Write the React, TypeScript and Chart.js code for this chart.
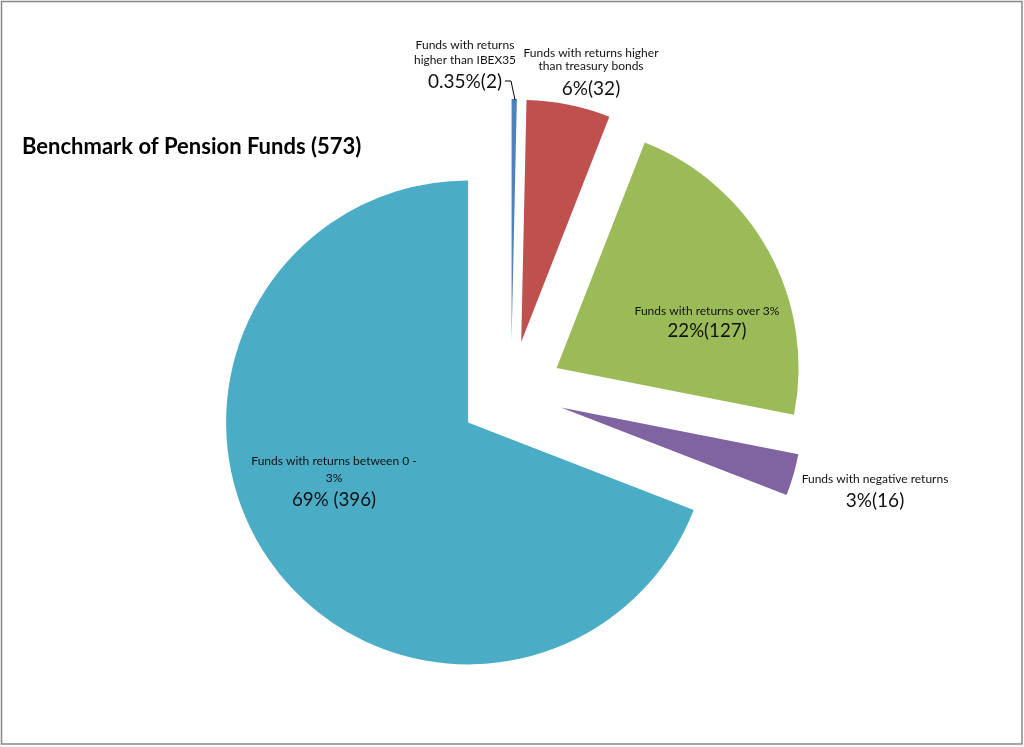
import React, { useEffect, useRef } from "react";
import { Chart, registerables } from "chart.js";

Chart.register(...registerables);

// ---- data ----
const categoryLines = [
  ["Funds with returns", "higher than IBEX35"],
  ["Funds with returns higher", "than treasury bonds"],
  ["Funds with returns over 3%"],
  ["Funds with negative returns"],
  ["Funds with returns between 0 -", "3%"],
];
const fundCounts = [2, 32, 127, 16, 396];
const valueLabels = ["0.35%(2)", "6%(32)", "22%(127)", "3%(16)", "69% (396)"];
const sliceColors = ["#4F81BD", "#C0504D", "#9BBB59", "#8064A2", "#4BACC6"];
const chartTitle = "Benchmark of Pension Funds (573)";

// ---- layout / style (not data) ----
const EXPLODE = 52;
const RADIUS = 242;
const TEXT_COLOR = "#111111";
const SMALL_FONT = "12px Lato";
const VALUE_FONT = "19px Lato";
// label placement relative to pie centre: x centre, y of each category line, y of value line
const labelLayout = [
  { dx: -46, lineYs: [-348, -332.5], valueY: -311, valueW: 76, lineW: [102, 102] },
  { dx: 80, lineYs: [-340, -326.5], valueY: -304, valueW: 59, lineW: [135, 108] },
  { dx: 196, lineYs: [-82], valueY: -62, valueW: 79, lineW: [145] },
  { dx: 364, lineYs: [86], valueY: 108, valueW: 59, lineW: [148] },
  { dx: -177, lineYs: [68, 85], valueY: 107, valueW: 84, lineW: [186, 18] },
];

const explodePlugin = {
  id: "explodeSlices",
  beforeDatasetDraw(chart: any, args: any) {
    const ctx = chart.ctx;
    args.meta.data.forEach((arc: any) => {
      const { startAngle, endAngle } = arc.getProps(["startAngle", "endAngle"], true);
      const mid = (startAngle + endAngle) / 2;
      ctx.save();
      ctx.translate(Math.cos(mid) * EXPLODE, Math.sin(mid) * EXPLODE);
      arc.draw(ctx, chart.chartArea);
      ctx.restore();
    });
    return false;
  },
};

const textPlugin = {
  id: "pieText",
  afterDraw(chart: any) {
    const ctx = chart.ctx;
    const arc0 = chart.getDatasetMeta(0).data[0];
    const cx = arc0.x;
    const cy = arc0.y;
    ctx.save();
    // border
    ctx.strokeStyle = "#888888";
    ctx.lineWidth = 1.5;
    ctx.strokeRect(1.5, 1.5, 1020.5, 742.5);

    // title
    ctx.fillStyle = "#000000";
    ctx.font = "bold 22px Lato";
    ctx.textAlign = "left";
    ctx.textBaseline = "middle";
    ctx.fillText(chartTitle, 22, 147, 340);

    ctx.textAlign = "center";
    ctx.fillStyle = TEXT_COLOR;
    labelLayout.forEach((lay, i) => {
      const x = cx + lay.dx;
      ctx.font = SMALL_FONT;
      categoryLines[i].forEach((line, j) => {
        ctx.fillText(line, x, cy + lay.lineYs[j], lay.lineW[j]);
      });
      ctx.font = VALUE_FONT;
      ctx.fillText(valueLabels[i], x, cy + lay.valueY, lay.valueW);
    });

    // leader line for the smallest slice
    ctx.strokeStyle = "#000000";
    ctx.lineWidth = 1;
    ctx.beginPath();
    ctx.moveTo(cx - 6, cy - 312);
    ctx.lineTo(cx, cy - 312);
    ctx.lineTo(cx + 4, cy - 293);
    ctx.stroke();
    ctx.restore();
  },
};

export default function App() {
  const canvasRef = useRef<HTMLCanvasElement | null>(null);

  useEffect(() => {
    if (!canvasRef.current) return;
    const chart = new Chart(canvasRef.current, {
      type: "pie",
      data: {
        labels: categoryLines.map((l) => l.join(" ")),
        datasets: [
          {
            data: fundCounts,
            backgroundColor: sliceColors,
            borderWidth: 0,
            radius: RADIUS,
          } as any,
        ],
      },
      options: {
        responsive: false,
        animation: false,
        layout: { padding: { left: 0, right: 2, top: 40, bottom: 1 } },
        plugins: {
          legend: { display: false },
          tooltip: { enabled: false },
          title: { display: false },
        },
        events: [],
      },
      plugins: [explodePlugin, textPlugin],
    });
    return () => chart.destroy();
  }, []);

  return (
    <div style={{ position: "fixed", left: 0, top: 0, width: 1024, height: 747, background: "#ffffff" }}>
      <canvas ref={canvasRef} width={1024} height={747} style={{ display: "block" }} />
    </div>
  );
}
